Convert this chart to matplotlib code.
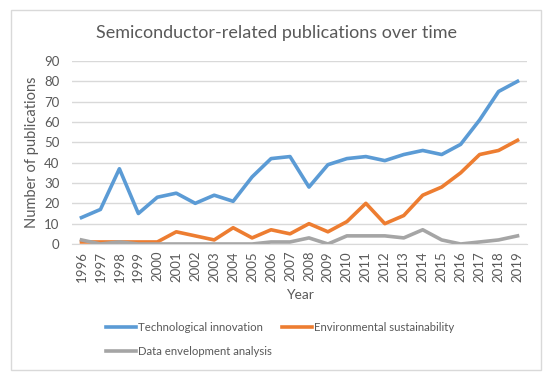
import matplotlib.pyplot as plt
from matplotlib.patches import Rectangle

years = [str(y) for y in range(1996, 2020)]
tech_innovation = [13, 17, 37, 15, 23, 25, 20, 24, 21, 33, 42, 43,
                   28, 39, 42, 43, 41, 44, 46, 44, 49, 61, 75, 80]
env_sustain = [1, 1, 1, 1, 1, 6, 4, 2, 8, 3, 7, 5,
               10, 6, 11, 20, 10, 14, 24, 28, 35, 44, 46, 51]
dea = [2, 0, 1, 0, 0, 0, 0, 0, 0, 0, 1, 1,
       3, 0, 4, 4, 4, 3, 7, 2, 0, 1, 2, 4]
yticks = list(range(0, 100, 10))

plt.rcParams['font.family'] = ['Lato', 'DejaVu Sans']
txt = '#595959'

W, H = 550, 378
fig = plt.figure(figsize=(W / 100, H / 100), dpi=100)
fig.patches.append(Rectangle((11 / W, 1 - 370 / H), 530 / W, 360 / H,
                             transform=fig.transFigure, fill=False,
                             edgecolor='#D9D9D9', linewidth=1))

ax = fig.add_axes([72 / W, 1 - 244 / H, 455 / W, 183 / H])
x = range(len(years))
l1, = ax.plot(x, tech_innovation, color='#5B9BD5', lw=2.6,
              label='Technological innovation', solid_joinstyle='round')
l2, = ax.plot(x, env_sustain, color='#ED7D31', lw=2.6,
              label='Environmental sustainability', solid_joinstyle='round')
l3, = ax.plot(x, dea, color='#A5A5A5', lw=2.6,
              label='Data envelopment analysis', solid_joinstyle='round')

ax.set_xlim(-0.5, len(years) - 0.5)
ax.set_ylim(0, 90)
ax.set_yticks(yticks)
ax.set_xticks(list(x))
ax.set_xticklabels(years, rotation=90)
ax.yaxis.grid(True, color='#D9D9D9', lw=1)
ax.set_axisbelow(True)
for s in ['top', 'right', 'left']:
    ax.spines[s].set_visible(False)
ax.spines['bottom'].set_color('#D9D9D9')
ax.tick_params(axis='both', length=0, colors=txt, labelsize=9.5)
ax.tick_params(axis='y', pad=9)
ax.tick_params(axis='x', pad=5)
ax.set_xlabel('Year', color=txt, fontsize=10, labelpad=5)
ax.set_ylabel('Number of publications', color=txt, fontsize=10.5, labelpad=4)

fig.text(276 / W, 1 - 33 / H, 'Semiconductor-related publications over time',
         ha='center', va='center', fontsize=13, color=txt)

# row-wise order: tech, env on first row; dea on second
fig.legend([l1, l3, l2], [l1.get_label(), l3.get_label(), l2.get_label()],
           loc='upper left', bbox_to_anchor=(106 / W, 1 - 322 / H), ncol=2,
           frameon=False, fontsize=8.2, labelcolor=txt, handlelength=2.6,
           handletextpad=0.2, columnspacing=0.9, labelspacing=1.15,
           borderpad=0, borderaxespad=0)

fig.savefig('out.png', dpi=100)
